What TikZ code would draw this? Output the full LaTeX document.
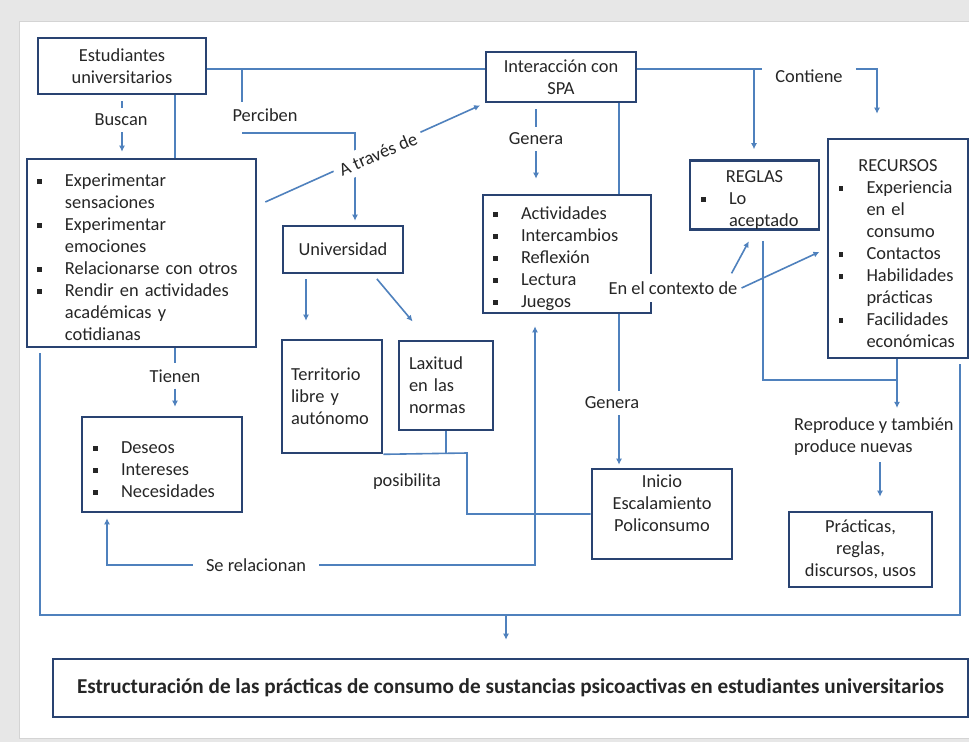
\documentclass[tikz,border=0pt]{standalone}
\usepackage{fontspec}
\setmainfont{Carlito}
\usetikzlibrary{arrows.meta}
\definecolor{boxblue}{RGB}{41,67,113}
\definecolor{lineblue}{RGB}{79,129,189}
\definecolor{bggray}{RGB}{231,231,231}
\definecolor{edgegray}{RGB}{212,212,212}
\newcommand{\sqbul}{\rule[0.15em]{0.26em}{0.26em}}
\newcommand{\itm}[1]{\par\hangindent=28pt\hangafter=1\noindent\hbox to 28pt{\sqbul\hfil}#1\par}
\newcommand{\ctr}[1]{\par\noindent\hbox to \hsize{\hss#1\hss}\par}
\begin{document}
\begin{tikzpicture}[
    x=1pt, y=-1pt,
    every node/.style={font=\fontsize{18.4}{22}\selectfont, text=black!85},
    box/.style={rectangle, draw=boxblue, line width=2.6pt, inner xsep=10pt, inner ysep=0pt},
    lbl/.style={inner xsep=13pt, inner ysep=6pt},
    conn/.style={draw=lineblue, line width=1.6pt},
    arrow/.style={conn, -{Latex[length=6pt,width=6pt]}}
]
\useasboundingbox (0,0) rectangle (969,742);
\fill[bggray] (0,0) rectangle (969,742);
\filldraw[fill=white, draw=edgegray, line width=1pt] (19,21) rectangle (972,738);

% Boxes
\node[box, minimum width=168pt, minimum height=56pt, align=center] (est) at (122,66) {Estudiantes\\universitarios};
\node[box, minimum width=150pt, minimum height=50pt, align=center] (spa) at (561,77) {Interacción con\\SPA};
\node[box, minimum width=229pt, minimum height=188pt, text width=209pt, align=left] (busq) at (141.5,253)
    {\itm{Experimentar\newline sensaciones}\itm{Experimentar\newline emociones}\itm{Relacionarse con otros}\itm{Rendir en actividades\newline académicas y\newline cotidianas}};
\node[box, minimum width=120pt, minimum height=47pt] (univ) at (343,249.5) {Universidad};
\node[box, minimum width=168pt, minimum height=118pt, text width=148pt, align=left] (activ) at (567,254)
    {\itm{Actividades}\itm{Intercambios}\itm{Reflexión}\itm{Lectura}\itm{Juegos}};
\node[box, minimum width=129pt, minimum height=66pt, text width=107pt, inner xsep=11pt, align=left] (reglas) at (754.5,195)
    {\ctr{REGLAS}\itm{Lo\newline aceptado}};
\node[box, minimum width=140pt, minimum height=219pt, text width=119pt, align=left] (recur) at (898,248.5)
    {\ctr{RECURSOS}\itm{Experiencia\newline en el\newline consumo}\itm{Contactos}\itm{Habilidades\newline prácticas}\itm{Facilidades\newline económicas}};
\node[box, minimum width=160pt, minimum height=95pt, text width=138pt, inner xsep=11pt, align=left] (deseos) at (162,464.5)
    {\itm{Deseos}\itm{Intereses}\itm{Necesidades}};
\node[box, minimum width=100pt, minimum height=113pt, text width=82pt, inner xsep=9pt, align=left] (territ) at (332,396.5) {Territorio\\libre y\\autónomo};
\node[box, minimum width=94pt, minimum height=89pt, text width=74pt, align=left] (laxit) at (446,385.5) {Laxitud\\en las\\normas};
\node[box, minimum width=140pt, minimum height=90pt, align=center] (inicio) at (662,514) {Inicio\\Escalamiento\\Policonsumo\\ \mbox{}};
\node[box, minimum width=143pt, minimum height=75pt, align=center] (pract) at (860.5,549.5) {Prácticas,\\reglas,\\discursos, usos};
\node[box, minimum width=915pt, minimum height=58pt, font=\fontsize{21.2}{25}\selectfont\bfseries] (estruc) at (510.5,688)
    {Estructuración de las prácticas de consumo de sustancias psicoactivas en estudiantes universitarios};

% Labels
\node[lbl] (buscan) at (121,120) {Buscan};
\node[lbl] (perciben) at (265,115) {Perciben};
\node[lbl] (tienen) at (175,376) {Tienen};
\node[lbl] (posib) at (407,482) {posibilita};
\node[lbl] (serel) at (256,565) {Se relacionan};
\node[lbl] (genera1) at (536,139) {Genera};
\node[lbl] (genera2) at (612,403) {Genera};
\node[lbl] (contiene) at (809,76) {Contiene};
\node[lbl, anchor=west, align=left] (repro) at (781,437) {Reproduce y también\\produce nuevas};

% Junctions
\coordinate (jTop) at (242,69);
\coordinate (jPer) at (242,133);
\coordinate (jReg) at (754,69);
\coordinate (jRec) at (877,69);
\coordinate (jGen) at (619,403);
\coordinate (jRep) at (897,380);
\coordinate (jPra) at (880,500);
\coordinate (jPos) at (467,453);
\coordinate (jRel) at (535,565);
\coordinate (jLoopL) at (40,615);
\coordinate (jLoopR) at (960,615);
\coordinate (jFin) at (506,615);

% Top row
\draw[conn] (est.east |- jTop) -- (spa.west |- jTop);
\draw[conn] (jTop) -- (perciben.north -| jTop);
\draw[arrow, shorten >=4pt] (jPer) -| ([xshift=12pt]univ.north);
\draw[conn] (spa.east |- jTop) -- (contiene.west |- jTop);
\draw[arrow, shorten >=10pt] (jReg) -- (reglas.north -| jReg);
\draw[arrow, shorten >=24pt] (contiene.east |- jTop) -| (recur.north -| jRec);

% A traves de
\draw[arrow, shorten >=5pt] ([xshift=8pt,yshift=51pt]busq.east) -- (spa.south west);
\node[lbl, fill=white, rotate=23, inner xsep=6pt] (atraves) at (378,154) {A través de};

% Left column
\draw[conn, shorten <=6pt] (est.south) -- (est.south |- buscan.north);
\draw[arrow, shorten >=6pt] (buscan.south -| est.south) -- (busq.north -| est.south);
\draw[conn] (est.south -| tienen) -- (busq.north -| tienen);
\draw[conn] (busq.south -| tienen) -- (tienen.north);
\draw[arrow, shorten >=9pt] (tienen.south) -- (deseos.north -| tienen);

% Universidad
\draw[arrow, shorten <=5pt, shorten >=18pt] ([xshift=-37pt]univ.south) -- ([xshift=-26pt]territ.north);
\draw[arrow, shorten <=6pt, shorten >=24pt] ([xshift=30pt]univ.south) -- ([xshift=-18pt]laxit.north);

% posibilita
\draw[conn] (laxit.south) -- (laxit.south |- jPos);
\draw[conn] (territ.south east) -- (jPos) |- (inicio.west);

% Interaccion column
\draw[conn, shorten <=6pt] (spa.south -| genera1) -- (genera1.north);
\draw[arrow, shorten >=15pt] (genera1.south) -- (activ.north -| genera1);
\draw[conn] (spa.south -| jGen) -- (activ.north -| jGen);
\draw[conn] (activ.south -| jGen) -- (genera2.north -| jGen);
\draw[arrow, shorten >=3pt] (genera2.south -| jGen) -- (inicio.north -| jGen);

% Se relacionan
\draw[arrow, shorten >=12pt] (serel.east) -- (jRel) -- (activ.south -| jRel);
\draw[arrow, shorten >=5pt] (serel.west) -| ([xshift=-55pt]deseos.south);

% En el contexto de
\node[lbl, fill=white, inner xsep=4pt, inner ysep=8pt] (ctx) at (673,288) {En el contexto de};
\draw[arrow, shorten >=12pt] ([xshift=-10pt]ctx.north east) -- (reglas.south);
\draw[arrow, shorten >=8pt] (ctx.east) -- (recur.west);

% Reglas y recursos
\draw[conn] ([xshift=8.5pt,yshift=-10pt]reglas.south) |- (jRep);
\draw[arrow, shorten >=4pt] (recur.south -| jRep) -- (repro.north -| jRep);
\draw[arrow, shorten >=14pt] (repro.south -| jPra) -- (pract.north -| jPra);

% Outer loop
\draw[conn, shorten <=5pt, shorten >=5pt] (busq.south -| jLoopL) -- (jLoopL) -- (jLoopR) -- (recur.south -| jLoopR);
\draw[arrow, shorten >=18pt] (jFin) -- (estruc.north -| jFin);
\end{tikzpicture}
\end{document}
